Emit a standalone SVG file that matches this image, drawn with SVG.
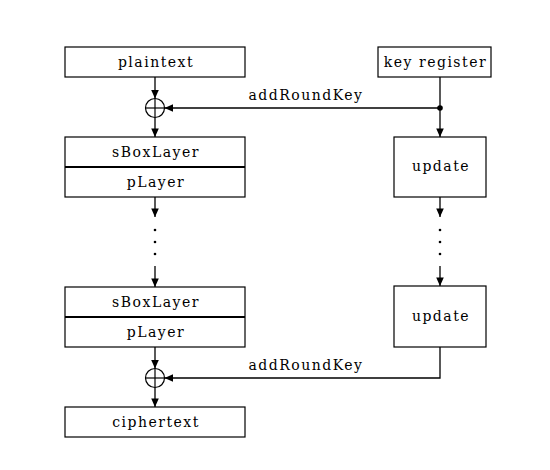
<svg xmlns="http://www.w3.org/2000/svg" width="550" height="470" viewBox="0 0 550 470">
<style>
.box{fill:#fff;stroke:#000;stroke-width:1.2}
.div{stroke:#000;stroke-width:2.2}
.t{font-family:"DejaVu Serif","Liberation Serif",serif;font-size:14px;letter-spacing:1.5px;text-anchor:middle;fill:#000}
.c{fill:none;stroke:#000;stroke-width:1.3}
.a{marker-end:url(#ah)}
.x{fill:none;stroke:#000;stroke-width:1.2}
</style>
<defs>
<marker id="ah" markerUnits="userSpaceOnUse" markerWidth="10" markerHeight="10" viewBox="0 0 10 10" refX="9" refY="5" orient="auto">
<path d="M0.5,1.2 L9,5 L0.5,8.8 Z" fill="#000"/>
</marker>
</defs>
<rect width="550" height="470" fill="#fff"/>
<g id="connectors">
<line class="c a" x1="155" y1="77" x2="155" y2="98.5"/>
<line class="c a" x1="155" y1="117.5" x2="155" y2="137"/>
<line class="c a" x1="155" y1="197" x2="155" y2="217"/>
<line class="c a" x1="155" y1="266" x2="155" y2="287"/>
<line class="c a" x1="155" y1="347" x2="155" y2="368.5"/>
<line class="c a" x1="155" y1="387.5" x2="155" y2="407"/>
<line class="c a" x1="440" y1="77" x2="440" y2="137"/>
<line class="c a" x1="440" y1="108" x2="164.5" y2="108"/>
<line class="c a" x1="440" y1="197" x2="440" y2="217"/>
<line class="c a" x1="440" y1="266" x2="440" y2="286"/>
<polyline class="c a" points="440,347 440,378 164.5,378"/>
<circle cx="440" cy="108" r="2.8" fill="#000"/>
<g fill="#000">
<circle cx="155" cy="230" r="1.3"/><circle cx="155" cy="242" r="1.3"/><circle cx="155" cy="254" r="1.3"/>
<circle cx="440" cy="230" r="1.3"/><circle cx="440" cy="242" r="1.3"/><circle cx="440" cy="254" r="1.3"/>
</g>
<text class="t" x="306" y="100">addRoundKey</text>
<text class="t" x="306" y="370">addRoundKey</text>
</g>
<g id="plaintext">
<rect class="box" x="65" y="47" width="180" height="30"/>
<text class="t" x="156" y="67">plaintext</text>
</g>
<g id="xor1">
<circle class="x" cx="155" cy="108" r="9.5"/>
<line class="x" x1="145.5" y1="108" x2="164.5" y2="108"/>
<line class="x" x1="155" y1="98.5" x2="155" y2="117.5"/>
</g>
<g id="round1">
<rect class="box" x="65" y="137" width="180" height="60"/>
<line class="div" x1="65" y1="167" x2="245" y2="167"/>
<text class="t" x="156" y="157">sBoxLayer</text>
<text class="t" x="156" y="187">pLayer</text>
</g>
<g id="round2">
<rect class="box" x="65" y="287" width="180" height="60"/>
<line class="div" x1="65" y1="317" x2="245" y2="317"/>
<text class="t" x="156" y="307">sBoxLayer</text>
<text class="t" x="156" y="337">pLayer</text>
</g>
<g id="xor2">
<circle class="x" cx="155" cy="378" r="9.5"/>
<line class="x" x1="145.5" y1="378" x2="164.5" y2="378"/>
<line class="x" x1="155" y1="368.5" x2="155" y2="387.5"/>
</g>
<g id="ciphertext">
<rect class="box" x="65" y="407" width="180" height="30"/>
<text class="t" x="156" y="427">ciphertext</text>
</g>
<g id="keyregister">
<rect class="box" x="378" y="47" width="113" height="30"/>
<text class="t" x="435.5" y="67">key register</text>
</g>
<g id="update1">
<rect class="box" x="394" y="137" width="92" height="60"/>
<text class="t" x="441" y="171">update</text>
</g>
<g id="update2">
<rect class="box" x="394" y="286" width="92" height="61"/>
<text class="t" x="441" y="321">update</text>
</g>
</svg>
